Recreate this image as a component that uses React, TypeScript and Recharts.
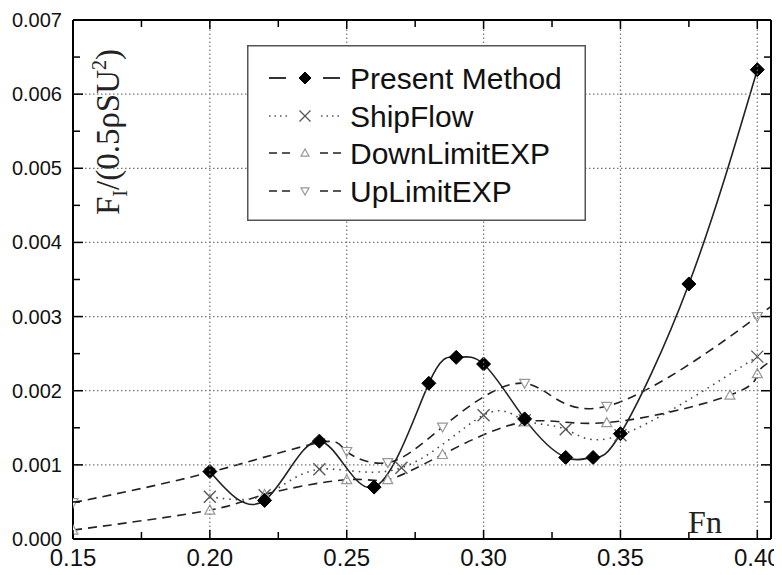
import React from 'react';
import { LineChart, Line, XAxis, YAxis, Legend } from 'recharts';

// ---- data ----
const seriesNames = ['Present Method', 'ShipFlow', 'DownLimitEXP', 'UpLimitEXP'];

const presentFn = [0.2, 0.22, 0.24, 0.26, 0.28, 0.29, 0.3, 0.315, 0.33, 0.34, 0.35, 0.375, 0.4];
const presentF = [0.00091, 0.00052, 0.00132, 0.0007, 0.0021, 0.00245, 0.00236, 0.00162, 0.0011, 0.0011, 0.00142, 0.00344, 0.00633];

const shipFn = [0.2, 0.22, 0.24, 0.27, 0.3, 0.315, 0.33, 0.35, 0.4];
const shipF = [0.00057, 0.00059, 0.00094, 0.00096, 0.00167, 0.0016, 0.00148, 0.0014, 0.00246];

const downFn = [0.15, 0.2, 0.22, 0.25, 0.265, 0.285, 0.315, 0.345, 0.39, 0.4, 0.405];
const downF = [0.00012, 0.00039, 0.0006, 0.0008, 0.0008, 0.00114, 0.00158, 0.00157, 0.00194, 0.00223, 0.0024];

const upFn = [0.15, 0.2, 0.24, 0.25, 0.265, 0.285, 0.315, 0.345, 0.4, 0.405];
const upF = [0.00049, 0.0009, 0.0013, 0.00118, 0.00103, 0.00151, 0.0021, 0.00179, 0.003, 0.00315];

const xDomain = [0.15, 0.405];
const yDomain = [0, 0.007];
const xTicks = [0.15, 0.175, 0.2, 0.225, 0.25, 0.275, 0.3, 0.325, 0.35, 0.375, 0.4];
const xMajor = [0.15, 0.2, 0.25, 0.3, 0.35, 0.4];
const yTicks = [0, 0.0005, 0.001, 0.0015, 0.002, 0.0025, 0.003, 0.0035, 0.004, 0.0045, 0.005, 0.0055, 0.006, 0.0065, 0.007];
const yMajor = [0, 0.001, 0.002, 0.003, 0.004, 0.005, 0.006, 0.007];
const xGrid = [0.2, 0.25, 0.3, 0.35, 0.4];
const yGrid = [0.001, 0.002, 0.003, 0.004, 0.005, 0.006];

const toRows = (xs: number[], ys: number[]) => xs.map((x, i) => ({ x, y: ys[i] }));
const presentData = toRows(presentFn, presentF);
const shipData = toRows(shipFn, shipF);
const downData = toRows(downFn, downF);
const upData = toRows(upFn, upF);

// ---- layout ----
const CHART_W = 774;
const CHART_H = 567;
const LEFT_W = 65;
const RIGHT_W = 11;
const TOP_H = 12;
const BOTTOM_H = 36;
const PLOT_W = CHART_W - LEFT_W - RIGHT_W;
const PLOT_H = CHART_H - TOP_H - BOTTOM_H;

const SANS = '"Liberation Sans", Arial, Helvetica, sans-serif';
const SERIF = '"Liberation Serif", "Times New Roman", Times, serif';
const X_MAX_MARK = 0.401;
const GRID_STYLE = { stroke: '#777', strokeWidth: 1.2, strokeDasharray: '1.5 2.5' };

const isIn = (arr: number[], v: number) => arr.some((a) => Math.abs(a - v) < 1e-9);

// ---- markers ----
const Diamond = ({ cx, cy, s = 7 }: any) => (
  <polygon points={`${cx},${cy - s} ${cx + s},${cy} ${cx},${cy + s} ${cx - s},${cy}`} fill="#000" stroke="#000" strokeWidth={1} />
);
const Cross = ({ cx, cy, s = 6 }: any) => (
  <g stroke="#555" strokeWidth={1.3}>
    <line x1={cx - s} y1={cy - s} x2={cx + s} y2={cy + s} />
    <line x1={cx - s} y1={cy + s} x2={cx + s} y2={cy - s} />
  </g>
);
const TriUp = ({ cx, cy, s = 5 }: any) => (
  <polygon points={`${cx},${cy - s} ${cx + s},${cy + s * 0.8} ${cx - s},${cy + s * 0.8}`} fill="#fff" stroke="#999" strokeWidth={1.2} />
);
const TriDown = ({ cx, cy, s = 5 }: any) => (
  <polygon points={`${cx},${cy + s} ${cx + s},${cy - s * 0.8} ${cx - s},${cy - s * 0.8}`} fill="#fff" stroke="#999" strokeWidth={1.2} />
);

const makeDot = (Shape: any) => (props: any) => {
  const { cx, cy, payload, index } = props;
  if (cx == null || cy == null || !payload || payload.x > X_MAX_MARK) return <g key={`d${index}`} />;
  return (
    <g key={`d${index}`}>
      <Shape cx={cx} cy={cy} />
    </g>
  );
};

// ---- axis ticks (inward) + grid at major ticks ----
const BottomTick = (props: any) => {
  const { x, y, payload } = props;
  const v = payload.value;
  const major = isIn(xMajor, v);
  return (
    <g>
      {isIn(xGrid, v) && <line x1={x} x2={x} y1={y} y2={y - PLOT_H} {...GRID_STYLE} />}
      <line x1={x} x2={x} y1={y} y2={y - (major ? 9 : 7)} stroke="#000" strokeWidth={1.5} />
      {major && (
        <text x={x} y={y + 27} textAnchor="middle" fontFamily={SANS} fontSize={24} fill="#111">
          {v.toFixed(2)}
        </text>
      )}
    </g>
  );
};
const TopTick = (props: any) => {
  const { x, y, payload } = props;
  const major = isIn(xMajor, payload.value);
  return <line x1={x} x2={x} y1={y} y2={y + (major ? 9 : 7)} stroke="#000" strokeWidth={1.5} />;
};
const LeftTick = (props: any) => {
  const { x, y, payload } = props;
  const v = payload.value;
  const major = isIn(yMajor, v);
  return (
    <g>
      {isIn(yGrid, v) && <line x1={x} x2={x + PLOT_W} y1={y} y2={y} {...GRID_STYLE} />}
      <line x1={x} x2={x + (major ? 10 : 7)} y1={y} y2={y} stroke="#000" strokeWidth={1.5} />
      {major && (
        <text x={x - 11} y={y + 7} textAnchor="end" fontFamily={SANS} fontSize={20} fill="#111">
          {v.toFixed(3)}
        </text>
      )}
    </g>
  );
};
const RightTick = (props: any) => {
  const { x, y, payload } = props;
  const major = isIn(yMajor, payload.value);
  return <line x1={x} x2={x - (major ? 10 : 7)} y1={y} y2={y} stroke="#000" strokeWidth={1.5} />;
};

// ---- axis titles ----
const YTitle = (props: any) => {
  const vb = props.viewBox || { x: 0, y: 0, width: LEFT_W, height: PLOT_H };
  const cx = vb.x + vb.width + 46;
  const cy = vb.y + 112;
  return (
    <text x={cx} y={cy} transform={`rotate(-90, ${cx}, ${cy})`} textAnchor="middle" fontFamily={SERIF} fontSize={33} fill="#222">
      <tspan>F</tspan>
      <tspan fontSize={20} dy={8}>I</tspan>
      <tspan dy={-8}>/(0.5ρSU</tspan>
      <tspan fontSize={20} dy={-13}>2</tspan>
      <tspan dy={13}>)</tspan>
    </text>
  );
};
const XTitle = (props: any) => {
  const vb = props.viewBox || { x: LEFT_W, y: TOP_H + PLOT_H, width: PLOT_W, height: BOTTOM_H };
  return (
    <text x={vb.x + 632} y={vb.y - 6} textAnchor="middle" fontFamily={SERIF} fontSize={32} fill="#222">
      Fn
    </text>
  );
};

// ---- legend ----
const LegendBox = () => {
  const rowY = [33, 71, 108, 146];
  const sample = (i: number, cy: number) => {
    if (i === 0)
      return (
        <g>
          <line x1={22} x2={39} y1={cy} y2={cy} stroke="#000" strokeWidth={1.6} />
          <line x1={76} x2={93} y1={cy} y2={cy} stroke="#000" strokeWidth={1.6} />
          <Diamond cx={58} cy={cy} s={6} />
        </g>
      );
    if (i === 1)
      return (
        <g>
          <line x1={22} x2={42} y1={cy} y2={cy} stroke="#555" strokeWidth={1.4} strokeDasharray="1.5 4" />
          <line x1={74} x2={94} y1={cy} y2={cy} stroke="#555" strokeWidth={1.4} strokeDasharray="1.5 4" />
          <Cross cx={58} cy={cy} s={5.5} />
        </g>
      );
    return (
      <g>
        <line x1={22} x2={43} y1={cy} y2={cy} stroke="#222" strokeWidth={1.5} strokeDasharray="8 5" />
        <line x1={73} x2={94} y1={cy} y2={cy} stroke="#222" strokeWidth={1.5} strokeDasharray="8 5" />
        {i === 2 ? <TriUp cx={58} cy={cy} s={4} /> : <TriDown cx={58} cy={cy} s={4} />}
      </g>
    );
  };
  return (
    <svg width={339} height={176} style={{ display: 'block' }}>
      <rect x={0.75} y={0.75} width={337.5} height={174.5} fill="#fff" stroke="#555" strokeWidth={1.5} />
      {seriesNames.map((n, i) => (
        <g key={n}>
          {sample(i, rowY[i])}
          <text x={103} y={rowY[i] + 11} fontFamily={SANS} fontSize={30} fill="#111">
            {n}
          </text>
        </g>
      ))}
    </svg>
  );
};

export default function App() {
  return (
    <div style={{ width: CHART_W, height: CHART_H, position: 'relative' }}>
      <LineChart width={CHART_W} height={CHART_H} margin={{ top: 0, right: 0, bottom: 0, left: 0 }}>
        <XAxis
          xAxisId="b"
          type="number"
          dataKey="x"
          domain={xDomain}
          ticks={xTicks}
          interval={0}
          tickSize={0}
          tickMargin={0}
          tickLine={false}
          tick={<BottomTick />}
          axisLine={{ stroke: '#000', strokeWidth: 2 }}
          height={BOTTOM_H}
          allowDataOverflow
          label={<XTitle />}
        />
        <XAxis
          xAxisId="t"
          orientation="top"
          type="number"
          dataKey="x"
          domain={xDomain}
          ticks={xTicks}
          interval={0}
          tickSize={0}
          tickMargin={0}
          tickLine={false}
          tick={<TopTick />}
          axisLine={{ stroke: '#000', strokeWidth: 2 }}
          height={TOP_H}
          allowDataOverflow
        />
        <YAxis
          yAxisId="l"
          type="number"
          domain={yDomain}
          ticks={yTicks}
          interval={0}
          tickSize={0}
          tickMargin={0}
          tickLine={false}
          tick={<LeftTick />}
          axisLine={{ stroke: '#000', strokeWidth: 2 }}
          width={LEFT_W}
          allowDataOverflow
          label={<YTitle />}
        />
        <YAxis
          yAxisId="r"
          orientation="right"
          type="number"
          domain={yDomain}
          ticks={yTicks}
          interval={0}
          tickSize={0}
          tickMargin={0}
          tickLine={false}
          tick={<RightTick />}
          axisLine={{ stroke: '#000', strokeWidth: 2 }}
          width={RIGHT_W}
          allowDataOverflow
        />
        <Line
          data={downData}
          dataKey="y"
          xAxisId="b"
          yAxisId="l"
          type="natural"
          stroke="#222"
          strokeWidth={1.6}
          strokeDasharray="9 6"
          dot={makeDot(TriUp)}
          activeDot={false}
          isAnimationActive={false}
          name={seriesNames[2]}
        />
        <Line
          data={upData}
          dataKey="y"
          xAxisId="b"
          yAxisId="l"
          type="natural"
          stroke="#222"
          strokeWidth={1.6}
          strokeDasharray="9 6"
          dot={makeDot(TriDown)}
          activeDot={false}
          isAnimationActive={false}
          name={seriesNames[3]}
        />
        <Line
          data={shipData}
          dataKey="y"
          xAxisId="b"
          yAxisId="l"
          type="natural"
          stroke="#444"
          strokeWidth={1.6}
          strokeDasharray="1.5 5"
          dot={makeDot(Cross)}
          activeDot={false}
          isAnimationActive={false}
          name={seriesNames[1]}
        />
        <Line
          data={presentData}
          dataKey="y"
          xAxisId="b"
          yAxisId="l"
          type="natural"
          stroke="#222"
          strokeWidth={1.6}
          dot={makeDot(Diamond)}
          activeDot={false}
          isAnimationActive={false}
          name={seriesNames[0]}
        />
        <Legend
          layout="vertical"
          align="center"
          verticalAlign="middle"
          content={() => <LegendBox />}
          wrapperStyle={{ position: 'absolute', left: 239, top: 37, width: 339, height: 176, margin: 0, padding: 0 }}
        />
      </LineChart>
    </div>
  );
}
